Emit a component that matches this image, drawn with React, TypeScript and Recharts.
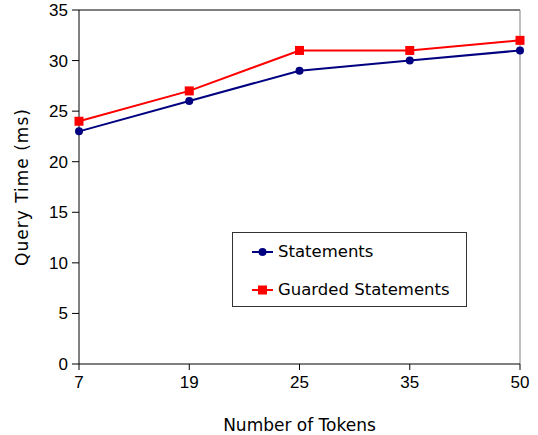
import { LineChart, Line, XAxis, YAxis, ReferenceLine } from 'recharts'

const tokens = ['7', '19', '25', '35', '50']
const statements = [23, 26, 29, 30, 31]
const guarded = [24, 27, 31, 31, 32]
const yTicks = [0, 5, 10, 15, 20, 25, 30, 35]

const data = tokens.map((t, i) => ({
  tokens: t,
  statements: statements[i],
  guarded: guarded[i],
}))

const tickFont = { fontFamily: '"Liberation Sans", Arial, sans-serif', fontSize: 17, fill: '#000' }
const titleFont = '"DejaVu Sans", Verdana, sans-serif'

function SquareDot(props: any) {
  const { cx, cy } = props
  if (cx == null || cy == null) return null
  return <rect x={cx - 4.5} y={cy - 4.5} width={9} height={9} fill="#ff0000" />
}

function LegendBox() {
  const items = [
    { label: 'Statements', color: '#000080', square: false },
    { label: 'Guarded Statements', color: '#ff0000', square: true },
  ]
  return (
    <div
      style={{
        position: 'absolute',
        left: 232,
        top: 232,
        width: 233,
        height: 73,
        border: '1px solid #333',
        background: '#fff',
        fontFamily: titleFont,
        fontSize: 16.5,
      }}
    >
      {items.map((it, i) => (
        <div
          key={it.label}
          style={{ display: 'flex', alignItems: 'center', position: 'absolute', left: 19, top: i === 0 ? 9 : 47 }}
        >
          <svg width={22} height={12} style={{ marginRight: 4 }}>
            <line x1={0} y1={6} x2={21} y2={6} stroke={it.color} strokeWidth={2} />
            {it.square ? (
              <rect x={6} y={1.5} width={9} height={9} fill={it.color} />
            ) : (
              <circle cx={10.5} cy={6} r={4} fill={it.color} />
            )}
          </svg>
          <span>{it.label}</span>
        </div>
      ))}
    </div>
  )
}

export default function App() {
  return (
    <div style={{ position: 'absolute', left: 0, top: 0, width: 538, height: 435 }}>
      <LineChart width={538} height={435} data={data} margin={{ top: 10, right: 18, bottom: 0, left: 0 }}>
        <XAxis
          dataKey="tokens"
          tick={tickFont}
          tickSize={6}
          tickMargin={6}
          axisLine={{ stroke: '#000' }}
          tickLine={{ stroke: '#000' }}
          height={71}
          label={{
            value: 'Number of Tokens',
            position: 'insideBottom',
            offset: 4,
            style: { fontFamily: titleFont, fontSize: 17, fill: '#000' },
          }}
        />
        <YAxis
          domain={[0, 35]}
          ticks={yTicks}
          tick={tickFont}
          tickSize={7}
          tickMargin={4}
          width={79}
          axisLine={{ stroke: '#000' }}
          tickLine={{ stroke: '#000' }}
          label={{
            value: 'Query Time (ms)',
            angle: -90,
            position: 'insideLeft',
            offset: 22,
            style: { fontFamily: titleFont, fontSize: 17, letterSpacing: 1, fill: '#000', textAnchor: 'middle' },
          }}
        />
        <ReferenceLine y={35} stroke="#000" />
        <ReferenceLine x="50" stroke="#808080" />
        <Line
          dataKey="statements"
          name="Statements"
          stroke="#000080"
          strokeWidth={2}
          dot={{ r: 4, fill: '#000080', stroke: '#000080', strokeWidth: 0 }}
          activeDot={false}
          isAnimationActive={false}
        />
        <Line
          dataKey="guarded"
          name="Guarded Statements"
          stroke="#ff0000"
          strokeWidth={2}
          dot={<SquareDot />}
          activeDot={false}
          isAnimationActive={false}
        />
      </LineChart>
      <LegendBox />
    </div>
  )
}
